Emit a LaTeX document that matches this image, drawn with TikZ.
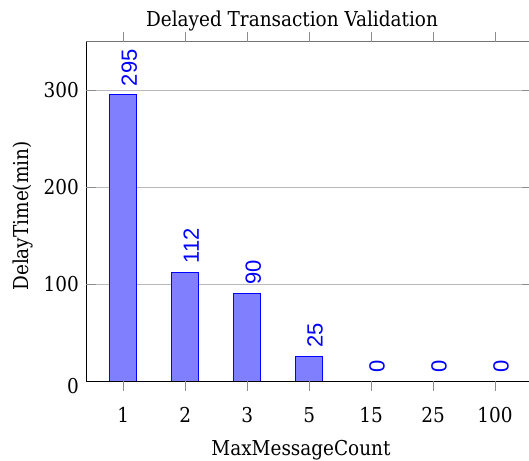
\documentclass[tikz,border=0pt]{standalone}
\usepackage{fontspec}
\setmainfont{DejaVu Serif Condensed}
\newfontfamily\valuefont{Liberation Sans}

\begin{document}
\begin{tikzpicture}[x=1pt,y=1pt,
  spine/.style={line width=1pt},
  gridline/.style={line width=0.8pt, color=black!27},
  tickmark/.style={line width=0.8pt, color=black!45},
  barbox/.style={draw=blue, fill=blue!50, line width=0.9pt},
  barval/.style={text=blue, font=\valuefont\fontsize{22}{24}\selectfont,
                 rotate=90, anchor=west, inner sep=0pt},
  ticklabel/.style={font=\fontsize{20.5}{24}\selectfont, inner sep=0pt},
  axislabel/.style={font=\fontsize{20.5}{24}\selectfont, inner sep=0pt, anchor=base},
]
\useasboundingbox (0,0) rectangle (529,460);
\clip (0,0) rectangle (529,460);

% horizontal grid
\foreach \yv in {100,200,300}
  \draw[gridline] (86,{79+0.97*\yv}) -- (532,{79+0.97*\yv});

% bars and their value labels
\foreach \v [count=\i] in {295,112,90,25,0,0,0} {
  \pgfmathsetmacro\xc{123.3+61.95*(\i-1)}
  \ifnum\v>0
    \draw[barbox] ({\xc-13.5},79) rectangle ({\xc+13.5},{79+0.97*\v});
  \fi
  \node[barval] (val\i) at ({\xc+6},{79+0.97*\v+8.6}) {\v};
}

% axis frame
\coordinate (ll) at (86,79);
\coordinate (ul) at (86,418);
\coordinate (lr) at (532,79);
\coordinate (ur) at (532,418);
\draw[spine, black!55] (ul) -- (ur);
\draw[spine] (ul) -- (ll) -- (lr);

% y ticks (inward) and labels
\foreach \yv in {100,200,300} {
  \draw[tickmark] (86,{79+0.97*\yv}) -- (96,{79+0.97*\yv});
  \draw[tickmark] (532,{79+0.97*\yv}) -- (522,{79+0.97*\yv});
  \node[ticklabel, anchor=east] (yt\yv) at (79,{79+0.97*\yv}) {\yv};
}
\node[ticklabel, anchor=east] (yt0) at (79,74) {0};

% x ticks (outward) and labels
\foreach \lab [count=\i] in {1,2,3,5,15,25,100} {
  \pgfmathsetmacro\xc{123.3+61.95*(\i-1)}
  \draw[tickmark] (\xc,79) -- (\xc,69);
  \draw[tickmark] (\xc,418) -- (\xc,428);
  \node[ticklabel, anchor=base] (xt\i) at (\xc,37.7) {\lab};
}

% titles
\node[axislabel] (title) at (292,433.3) {Delayed Transaction Validation};
\node[axislabel] (xlabel) at (301,5) {MaxMessageCount};
\node[axislabel, rotate=90] (ylabel) at (28.5,244) {DelayTime(min)};
\end{tikzpicture}
\end{document}
